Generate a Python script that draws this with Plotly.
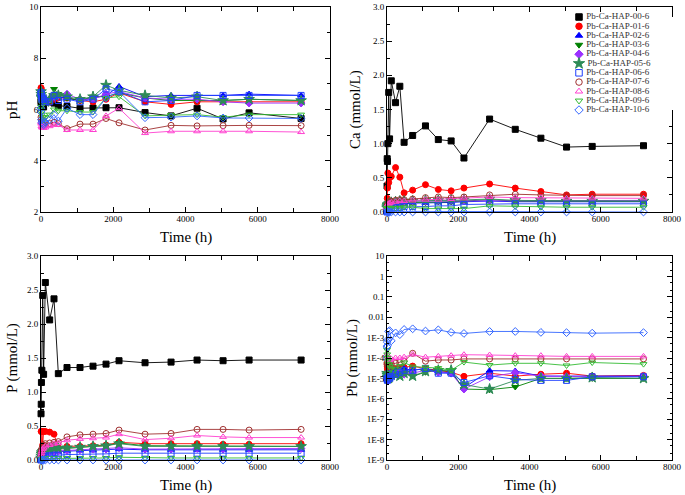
import plotly.graph_objects as go

times = [1, 6, 12, 24, 48, 72, 120, 240, 360, 480, 720, 1080, 1440, 1800, 2160,
         2880, 3600, 4320, 5040, 5760, 7200]

series = ["Pb-Ca-HAP-00-6", "Pb-Ca-HAP-01-6", "Pb-Ca-HAP-02-6", "Pb-Ca-HAP-03-6",
          "Pb-Ca-HAP-04-6", "Pb-Ca-HAP-05-6", "Pb-Ca-HAP-06-6", "Pb-Ca-HAP-07-6",
          "Pb-Ca-HAP-08-6", "Pb-Ca-HAP-09-6", "Pb-Ca-HAP-10-6"]

ph_data = [
    [6.3, 6.35, 6.3, 6.2, 6.15, 6.1, 6.3, 6.3, 6.25, 6.15, 6.12, 6.05, 6.06, 6.07, 6.07, 5.88, 5.75, 6.05, 5.63, 5.87, 5.65],
    [6.85, 6.8, 6.6, 6.5, 6.45, 6.4, 6.35, 6.3, 6.4, 6.45, 6.45, 6.35, 6.3, 6.4, 6.65, 6.3, 6.2, 6.3, 6.3, 6.3, 6.3],
    [6.75, 6.7, 6.6, 6.5, 6.5, 6.45, 6.4, 6.35, 6.55, 6.5, 6.45, 6.35, 6.45, 6.55, 6.9, 6.5, 6.55, 6.55, 6.55, 6.6, 6.55],
    [6.7, 6.6, 6.5, 6.4, 6.3, 6.25, 6.3, 6.3, 6.8, 6.6, 6.45, 6.35, 6.5, 6.5, 6.65, 6.45, 6.35, 6.35, 6.35, 6.4, 6.35],
    [6.6, 6.55, 6.5, 6.45, 6.4, 6.4, 6.35, 6.4, 6.5, 6.55, 6.6, 6.4, 6.4, 6.6, 6.7, 6.45, 6.4, 6.4, 6.3, 6.25, 6.25],
    [6.7, 6.6, 6.5, 6.45, 6.4, 6.4, 6.3, 6.4, 6.55, 6.55, 6.5, 6.4, 6.5, 6.95, 6.75, 6.55, 6.45, 6.5, 6.35, 6.4, 6.35],
    [6.65, 6.6, 6.5, 6.4, 6.45, 6.4, 6.3, 6.3, 6.55, 6.35, 6.4, 6.3, 6.4, 6.8, 6.7, 6.3, 6.35, 6.55, 6.55, 6.55, 6.55],
    [5.7, 5.6, 5.5, 5.45, 5.4, 5.35, 5.4, 5.45, 5.5, 5.45, 5.25, 5.43, 5.43, 5.65, 5.48, 5.2, 5.38, 5.36, 5.37, 5.38, 5.37],
    [5.5, 5.45, 5.35, 5.3, 5.3, 5.28, 5.3, 5.35, 5.4, 5.4, 5.2, 5.2, 5.2, 5.75, 6.05, 5.08, 5.15, 5.15, 5.15, 5.15, 5.12],
    [6.1, 6.0, 5.9, 5.8, 5.7, 5.6, 5.7, 5.8, 6.0, 5.95, 5.95, 5.9, 5.9, 6.45, 6.5, 5.75, 5.78, 5.8, 5.7, 5.8, 5.8],
    [6.05, 5.9, 5.6, 5.5, 5.45, 5.4, 5.5, 5.6, 5.8, 5.55, 6.05, 5.8, 5.8, 6.45, 6.7, 5.68, 5.7, 5.75, 5.67, 5.67, 5.65],
]

ca_data = [
    [0.38, 0.78, 0.74, 1.0, 1.75, 1.07, 1.92, 1.6, 1.84, 1.02, 1.12, 1.26, 1.06, 1.04, 0.79, 1.36, 1.21, 1.08, 0.95, 0.96, 0.97],
    [0.05, 0.2, 0.35, 0.57, 0.43, 0.5, 0.52, 0.65, 0.51, 0.28, 0.32, 0.4, 0.33, 0.31, 0.35, 0.41, 0.35, 0.3, 0.25, 0.26, 0.26],
    [0.0, 0.02, 0.04, 0.06, 0.08, 0.09, 0.1, 0.11, 0.12, 0.12, 0.13, 0.13, 0.14, 0.14, 0.15, 0.16, 0.15, 0.15, 0.15, 0.15, 0.15],
    [0.05, 0.06, 0.07, 0.08, 0.09, 0.1, 0.11, 0.12, 0.13, 0.13, 0.14, 0.14, 0.15, 0.15, 0.16, 0.18, 0.16, 0.16, 0.16, 0.16, 0.16],
    [0.05, 0.07, 0.09, 0.1, 0.11, 0.12, 0.13, 0.14, 0.15, 0.15, 0.16, 0.16, 0.17, 0.17, 0.17, 0.17, 0.17, 0.17, 0.17, 0.17, 0.17],
    [0.06, 0.08, 0.1, 0.11, 0.12, 0.13, 0.14, 0.15, 0.16, 0.16, 0.16, 0.17, 0.17, 0.17, 0.18, 0.19, 0.17, 0.17, 0.16, 0.16, 0.16],
    [0.0, 0.01, 0.02, 0.03, 0.04, 0.05, 0.06, 0.07, 0.07, 0.08, 0.08, 0.08, 0.09, 0.09, 0.11, 0.12, 0.12, 0.12, 0.12, 0.12, 0.12],
    [0.07, 0.09, 0.1, 0.12, 0.14, 0.15, 0.16, 0.17, 0.18, 0.18, 0.19, 0.21, 0.22, 0.21, 0.22, 0.25, 0.26, 0.25, 0.24, 0.24, 0.24],
    [0.06, 0.08, 0.1, 0.11, 0.12, 0.13, 0.14, 0.15, 0.16, 0.16, 0.17, 0.18, 0.18, 0.19, 0.2, 0.22, 0.21, 0.21, 0.2, 0.2, 0.2],
    [0.05, 0.05, 0.06, 0.06, 0.06, 0.06, 0.06, 0.06, 0.06, 0.07, 0.07, 0.05, 0.05, 0.05, 0.05, 0.09, 0.08, 0.07, 0.07, 0.07, 0.07],
    [0.01, 0.01, 0.0, 0.0, 0.0, 0.0, 0.0, 0.0, 0.0, 0.0, 0.0, 0.0, 0.0, 0.0, 0.0, 0.0, 0.0, 0.0, 0.0, 0.0, 0.0],
]

p_data = [
    [0.68, 0.82, 1.14, 1.32, 2.42, 1.26, 2.61, 2.06, 2.37, 1.27, 1.36, 1.36, 1.38, 1.41, 1.46, 1.43, 1.44, 1.47, 1.46, 1.47, 1.47],
    [0.0, 0.42, 0.42, 0.42, 0.22, 0.42, 0.42, 0.41, 0.38, 0.18, 0.2, 0.2, 0.21, 0.22, 0.26, 0.24, 0.24, 0.24, 0.23, 0.23, 0.24],
    [0.0, 0.02, 0.04, 0.06, 0.08, 0.09, 0.1, 0.11, 0.12, 0.12, 0.13, 0.14, 0.14, 0.15, 0.16, 0.15, 0.15, 0.15, 0.15, 0.15, 0.15],
    [0.02, 0.05, 0.08, 0.1, 0.12, 0.13, 0.14, 0.15, 0.16, 0.16, 0.17, 0.19, 0.2, 0.21, 0.25, 0.21, 0.21, 0.21, 0.2, 0.2, 0.2],
    [0.02, 0.04, 0.06, 0.08, 0.09, 0.1, 0.11, 0.12, 0.12, 0.13, 0.14, 0.15, 0.16, 0.16, 0.18, 0.16, 0.16, 0.17, 0.16, 0.17, 0.17],
    [0.03, 0.06, 0.09, 0.11, 0.13, 0.14, 0.15, 0.16, 0.17, 0.17, 0.18, 0.19, 0.2, 0.21, 0.24, 0.2, 0.2, 0.2, 0.2, 0.2, 0.2],
    [0.0, 0.01, 0.02, 0.03, 0.04, 0.05, 0.06, 0.06, 0.07, 0.07, 0.08, 0.08, 0.09, 0.09, 0.1, 0.1, 0.1, 0.1, 0.1, 0.1, 0.1],
    [0.05, 0.1, 0.14, 0.17, 0.2, 0.22, 0.24, 0.25, 0.26, 0.27, 0.34, 0.37, 0.38, 0.39, 0.44, 0.38, 0.39, 0.45, 0.45, 0.44, 0.45],
    [0.03, 0.07, 0.1, 0.13, 0.16, 0.18, 0.2, 0.22, 0.24, 0.25, 0.29, 0.31, 0.32, 0.33, 0.38, 0.3, 0.32, 0.36, 0.34, 0.33, 0.33],
    [0.0, 0.01, 0.01, 0.02, 0.02, 0.02, 0.03, 0.03, 0.03, 0.03, 0.03, 0.03, 0.03, 0.03, 0.04, 0.03, 0.03, 0.03, 0.03, 0.03, 0.03],
    [0.0, 0.0, 0.0, 0.0, 0.0, 0.0, 0.0, 0.0, 0.0, 0.0, 0.0, 0.0, 0.0, 0.0, 0.0, 0.0, 0.0, 0.0, 0.0, 0.0, 0.0],
]

pb_data = [
    [None] * 21,
    [5e-5, 4e-5, 3e-5, 2.5e-5, 2e-5, 2e-5, 2.5e-5, 3e-5, 3e-5, 3.5e-5, 4e-5, 3e-5, 2.5e-5, 2e-5, 1.26e-5, 1.8e-5, 1.3e-5, 1.6e-5, 1.8e-5, 1.3e-5, 1.4e-5],
    [2e-5, 1.5e-5, 1.2e-5, 1.2e-5, 1.5e-5, 1.8e-5, 2e-5, 2.5e-5, 2.5e-5, 3e-5, 2.5e-5, 3e-5, 2.2e-5, 1.8e-5, 3.5e-6, 2.4e-5, 2.3e-5, 1.3e-5, 1.3e-5, 1.3e-5, 1.3e-5],
    [1.5e-5, 1.2e-5, 1e-5, 1e-5, 1.2e-5, 1.5e-5, 1.2e-5, 1.5e-5, 2e-5, 2e-5, 1.3e-5, 2e-5, 2.5e-5, 2.2e-5, 3e-6, 2.8e-6, 3.8e-6, 1e-5, 1e-5, 1e-5, 1e-5],
    [1.2e-5, 1e-5, 8e-6, 9e-6, 1.2e-5, 1.5e-5, 1.5e-5, 1.8e-5, 2e-5, 1.6e-5, 1.8e-5, 2.5e-5, 2e-5, 1.8e-5, 3e-6, 1.2e-5, 1.9e-5, 1.3e-5, 1.2e-5, 1.2e-5, 1.3e-5],
    [1.8e-5, 1.5e-5, 1.2e-5, 1e-5, 1e-5, 1.2e-5, 1.5e-5, 1.5e-5, 1.3e-5, 1.8e-5, 1.3e-5, 2.2e-5, 2.5e-5, 2.5e-5, 5e-6, 3e-6, 8e-6, 1e-5, 1e-5, 1.1e-5, 1e-5],
    [1e-5, 9e-6, 8e-6, 1e-5, 1.2e-5, 1e-5, 1.2e-5, 1.6e-5, 2e-5, 2.5e-5, 2.5e-5, 3.1e-5, 1.8e-5, 1.8e-5, 6.3e-6, 1.35e-5, 9e-6, 8e-6, 8e-6, 1.2e-5, 1.2e-5],
    [6e-5, 5e-5, 4.5e-5, 4e-5, 4e-5, 4.5e-5, 5e-5, 5.5e-5, 6e-5, 7e-5, 1.7e-4, 7e-5, 8e-5, 8e-5, 9e-5, 9e-5, 9e-5, 9e-5, 9e-5, 9e-5, 9e-5],
    [1.5e-4, 1.2e-4, 1e-4, 9e-5, 8e-5, 8e-5, 9e-5, 1e-4, 1e-4, 1.1e-4, 1.5e-4, 1.1e-4, 1.2e-4, 1.3e-4, 1.45e-4, 1.4e-4, 1.3e-4, 1.3e-4, 1.2e-4, 1.2e-4, 1.2e-4],
    [2.5e-4, 1.5e-4, 1e-4, 7e-5, 5e-5, 4e-5, 3e-5, 3e-5, 4e-5, 6e-5, 3.8e-5, 3.5e-5, 3.2e-5, 2.5e-5, 6.3e-5, 4.5e-5, 5.5e-5, 5.5e-5, 4.3e-5, 6e-5, 5e-5],
    [3.5e-4, 6e-4, 4e-4, 8e-4, 2e-3, 2.2e-3, 7e-4, 1.7e-3, 1.4e-3, 2.5e-3, 2.7e-3, 2.1e-3, 2.4e-3, 1.8e-3, 1.6e-3, 2.0e-3, 2.0e-3, 1.8e-3, 1.75e-3, 1.65e-3, 1.75e-3],
]

pb_tickvals = [1e-9, 1e-8, 1e-7, 1e-6, 1e-5, 1e-4, 1e-3, 0.01, 0.1, 1, 10]
pb_ticktext = ["1E-9", "1E-8", "1E-7", "1E-6", "1E-5", "1E-4", "1E-3", "0.01", "0.1", "1", "10"]

colors = ["#000000", "#ff0000", "#0000ff", "#008000", "#9b30ff", "#2e8b57",
          "#1f3fff", "#a03030", "#ff40d0", "#33bb33", "#3366ff"]
symbols = ["square", "circle", "triangle-up", "triangle-down", "diamond", "star",
           "square-open", "circle-open", "triangle-up-open", "triangle-down-open", "diamond-open"]

FONT = "Liberation Serif, Times New Roman, serif"
W, H = 685, 495

def px_x(a, b):
    return [a / W, b / W]

def px_y(top, bottom):
    return [1 - bottom / H, 1 - top / H]

fig = go.Figure()

panels = [
    (ph_data, "x", "y"),
    (ca_data, "x2", "y2"),
    (p_data, "x3", "y3"),
    (pb_data, "x4", "y4"),
]

for data, xa, ya in panels:
    for i, name in enumerate(series):
        fig.add_trace(go.Scatter(
            x=times, y=data[i], xaxis=xa, yaxis=ya, name=name,
            mode="lines+markers", showlegend=False, cliponaxis=False,
            line=dict(color=colors[i], width=0.9),
            marker=dict(symbol=symbols[i], size=6 if i != 5 else 8, color=colors[i],
                        line=dict(color=colors[i], width=1)),
        ))

# compact legend (marker + label per series)
for i, name in enumerate(series):
    fig.add_trace(go.Scatter(
        x=[0], y=[i], xaxis="x5", yaxis="y5", mode="markers+text",
        text=[" " + name], textposition="middle right",
        textfont=dict(family=FONT, size=9, color="#333333"),
        showlegend=False, cliponaxis=False,
        marker=dict(symbol=symbols[i], size=6.5 if i != 5 else 8.5, color=colors[i],
                    line=dict(color=colors[i], width=1)),
    ))

axis_common = dict(
    showline=True, linecolor="black", linewidth=1, mirror="allticks",
    ticks="inside", ticklen=5, tickcolor="black", tickwidth=1,
    showgrid=False, zeroline=False, automargin=False,
    tickfont=dict(family=FONT, size=9, color="black"),
)
title_font = dict(family=FONT, size=15, color="black")

def xaxis(domain, anchor):
    return dict(axis_common, domain=domain, anchor=anchor, range=[0, 8000],
                dtick=2000, tick0=0, ticklabelstandoff=-2,
                minor=dict(ticks="inside", dtick=1000, ticklen=4, tickcolor="black"))

xd_left = px_x(41, 330)
xd_right = px_x(387, 672)
yd_top = px_y(7, 212)
yd_bot = px_y(256, 460)

def title_ann(text, x_px, y_px, angle=0):
    return dict(text=text, x=x_px / W, y=1 - y_px / H, xref="paper", yref="paper",
                xanchor="center", yanchor="middle", showarrow=False, textangle=angle,
                font=title_font)

annotations = [
    title_ann("Time (h)", (41 + 330) / 2, 237),
    title_ann("Time (h)", (387 + 672) / 2, 237),
    title_ann("Time (h)", (41 + 330) / 2, 485),
    title_ann("Time (h)", (387 + 672) / 2, 485),
    title_ann("pH", 12, 110, -90),
    title_ann("Ca (mmol/L)", 355, 110, -90),
    title_ann("P (mmol/L)", 12, 358, -90),
    title_ann("Pb (mmol/L)", 352, 358, -90),
]

fig.update_layout(
    width=W, height=H,
    margin=dict(l=0, r=0, t=0, b=0),
    paper_bgcolor="white", plot_bgcolor="white",
    showlegend=False,
    annotations=annotations,
    xaxis=xaxis(xd_left, "y"),
    xaxis2=xaxis(xd_right, "y2"),
    xaxis3=xaxis(xd_left, "y3"),
    xaxis4=xaxis(xd_right, "y4"),
    yaxis=dict(axis_common, domain=yd_top, anchor="x", range=[2, 10], dtick=2,
               minor=dict(ticks="inside", dtick=1, ticklen=3, tickcolor="black")),
    yaxis2=dict(axis_common, domain=yd_top, anchor="x2", range=[0, 3], dtick=0.5,
                tickformat=".1f",
                minor=dict(ticks="inside", dtick=0.25, ticklen=3, tickcolor="black")),
    yaxis3=dict(axis_common, domain=yd_bot, anchor="x3", range=[0, 3], dtick=0.5,
                tickformat=".1f",
                minor=dict(ticks="inside", dtick=0.25, ticklen=3, tickcolor="black")),
    yaxis4=dict(axis_common, domain=yd_bot, anchor="x4", type="log", range=[-9, 1],
                tickmode="array", tickvals=pb_tickvals, ticktext=pb_ticktext,
                minor=dict(ticks="inside", ticklen=2, tickcolor="black")),
    xaxis5=dict(domain=px_x(579, 675), anchor="y5", range=[0, 1], visible=False,
                fixedrange=True),
    yaxis5=dict(domain=px_y(17, 110), anchor="x5", range=[10, 0], visible=False,
                fixedrange=True),
)

fig.write_html("out.html", config={"displayModeBar": False},
               post_script="document.body.style.margin='0';document.body.style.overflow='hidden';")
